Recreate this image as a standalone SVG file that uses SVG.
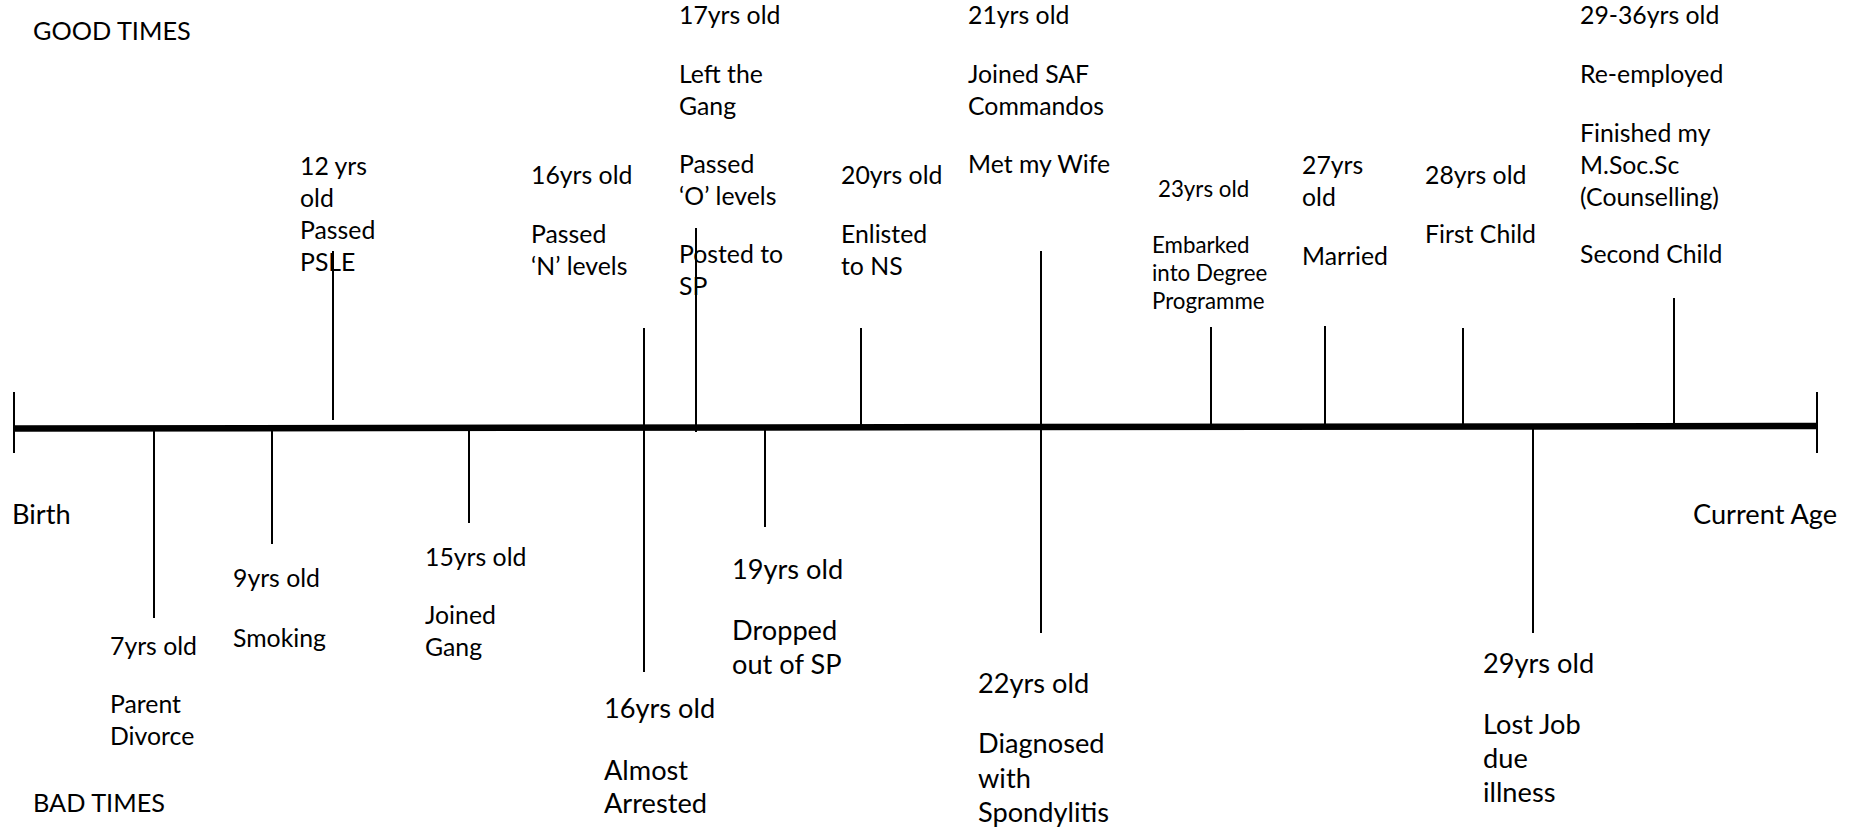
<svg xmlns="http://www.w3.org/2000/svg" width="1854" height="829" viewBox="0 0 1854 829">
<style>
text{font-family:Lato,"Liberation Sans",sans-serif;fill:#000}
.m{font-size:24.8px}
.s{font-size:22.3px}
.l{font-size:27.2px}
.h{font-size:25.3px}
.tick{stroke:#000;stroke-width:2;fill:none}
.axis{stroke:#000;stroke-width:6.5;fill:none}
</style>
<rect width="1854" height="829" fill="#fff"/>
<g id="connectors">
<line class="axis" x1="14" y1="428.5" x2="1817" y2="426"/>
<line class="tick" x1="14" y1="392" x2="14" y2="453"/>
<line class="tick" x1="1817" y1="392" x2="1817" y2="453"/>
<line class="tick" x1="333" y1="251" x2="333" y2="420"/>
<line class="tick" x1="644" y1="328" x2="644" y2="672"/>
<line class="tick" x1="696" y1="228" x2="696" y2="432"/>
<line class="tick" x1="861" y1="328" x2="861" y2="427"/>
<line class="tick" x1="1041" y1="251" x2="1041" y2="633"/>
<line class="tick" x1="1211" y1="327" x2="1211" y2="427"/>
<line class="tick" x1="1325" y1="326" x2="1325" y2="427"/>
<line class="tick" x1="1463" y1="328" x2="1463" y2="427"/>
<line class="tick" x1="1674" y1="298" x2="1674" y2="427"/>
<line class="tick" x1="154" y1="428" x2="154" y2="618"/>
<line class="tick" x1="272" y1="428" x2="272" y2="544"/>
<line class="tick" x1="469" y1="428" x2="469" y2="523"/>
<line class="tick" x1="765" y1="428" x2="765" y2="527"/>
<line class="tick" x1="1533" y1="427" x2="1533" y2="633"/>
</g>
<g id="labels">
<text class="h" x="33" y="40">GOOD TIMES</text>
<text class="h" x="33" y="812">BAD TIMES</text>
<text class="l" x="12" y="524">Birth</text>
<text class="l" x="1693" y="524">Current Age</text>
</g>
<g id="age12"><text class="m" x="300" y="175">12 yrs</text><text class="m" x="300" y="207">old</text><text class="m" x="300" y="239">Passed</text><text class="m" x="300" y="271">PSLE</text></g>
<g id="age16-good"><text class="m" x="531" y="184">16yrs old</text><text class="m" x="531" y="243">Passed</text><text class="m" x="531" y="275">‘N’ levels</text></g>
<g id="age17"><text class="m" x="679" y="24">17yrs old</text><text class="m" x="679" y="83">Left the</text><text class="m" x="679" y="115">Gang</text><text class="m" x="679" y="173">Passed</text><text class="m" x="679" y="205">‘O’ levels</text><text class="m" x="679" y="263">Posted to</text><text class="m" x="679" y="295">SP</text></g>
<g id="age20"><text class="m" x="841" y="184">20yrs old</text><text class="m" x="841" y="243">Enlisted</text><text class="m" x="841" y="275">to NS</text></g>
<g id="age21"><text class="m" x="968" y="24">21yrs old</text><text class="m" x="968" y="83">Joined SAF</text><text class="m" x="968" y="115">Commandos</text><text class="m" x="968" y="173">Met my Wife</text></g>
<g id="age23"><text class="s" x="1158" y="197">23yrs old</text><text class="s" x="1152" y="253">Embarked</text><text class="s" x="1152" y="281">into Degree</text><text class="s" x="1152" y="309">Programme</text></g>
<g id="age27"><text class="m" x="1302" y="174">27yrs</text><text class="m" x="1302" y="206">old</text><text class="m" x="1302" y="265">Married</text></g>
<g id="age28"><text class="m" x="1425" y="184">28yrs old</text><text class="m" x="1425" y="243">First Child</text></g>
<g id="age29-36"><text class="m" x="1580" y="24">29-36yrs old</text><text class="m" x="1580" y="83">Re-employed</text><text class="m" x="1580" y="142">Finished my</text><text class="m" x="1580" y="174">M.Soc.Sc</text><text class="m" x="1580" y="206">(Counselling)</text><text class="m" x="1580" y="263">Second Child</text></g>
<g id="age7"><text class="m" x="110" y="655">7yrs old</text><text class="m" x="110" y="713">Parent</text><text class="m" x="110" y="745">Divorce</text></g>
<g id="age9"><text class="m" x="233" y="587">9yrs old</text><text class="m" x="233" y="647">Smoking</text></g>
<g id="age15"><text class="m" x="425" y="566">15yrs old</text><text class="m" x="425" y="624">Joined</text><text class="m" x="425" y="656">Gang</text></g>
<g id="age16-bad"><text class="l" x="604" y="718">16yrs old</text><text class="l" x="604" y="780">Almost</text><text class="l" x="604" y="813">Arrested</text></g>
<g id="age19"><text class="l" x="732" y="579">19yrs old</text><text class="l" x="732" y="640">Dropped</text><text class="l" x="732" y="674">out of SP</text></g>
<g id="age22"><text class="l" x="978" y="693">22yrs old</text><text class="l" x="978" y="753">Diagnosed</text><text class="l" x="978" y="788">with</text><text class="l" x="978" y="822">Spondylitis</text></g>
<g id="age29"><text class="l" x="1483" y="673">29yrs old</text><text class="l" x="1483" y="734">Lost Job</text><text class="l" x="1483" y="768">due</text><text class="l" x="1483" y="802">illness</text></g>
</svg>
